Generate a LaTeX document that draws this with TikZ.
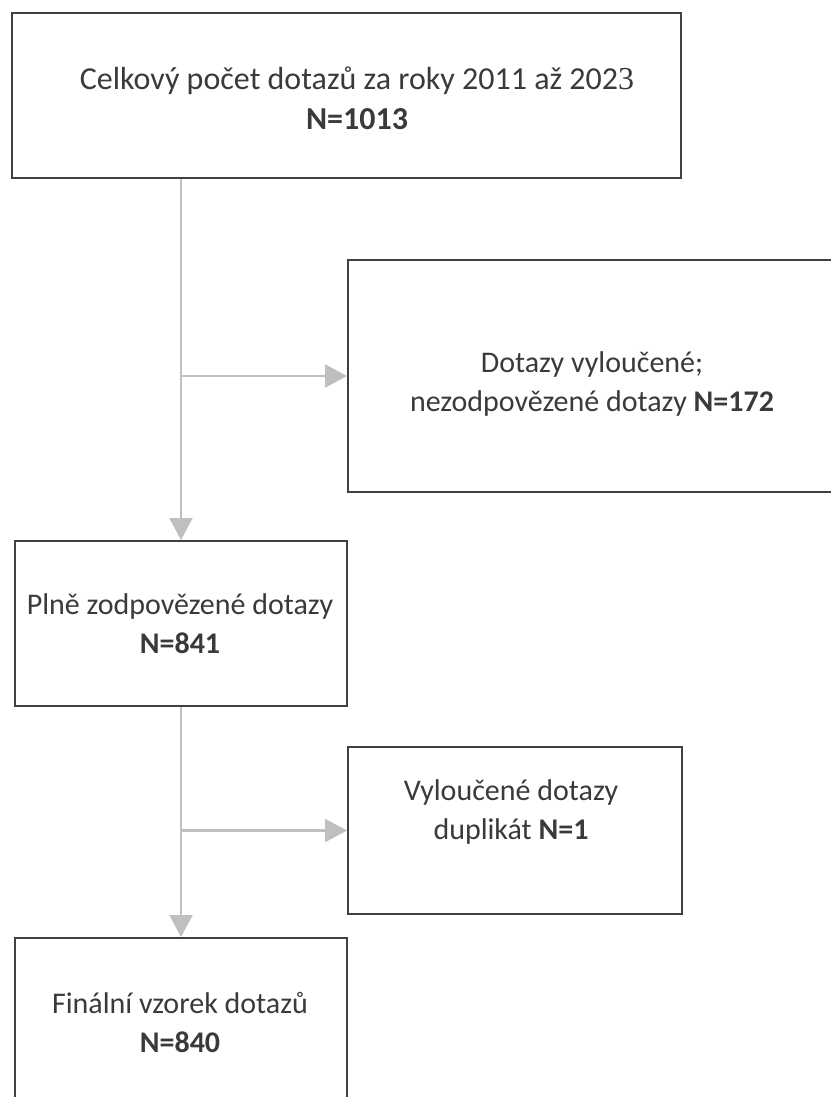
\documentclass[tikz,border=0pt]{standalone}
\usepackage{fontspec}
\setmainfont{Carlito}
\newfontfamily\serifthree{Liberation Serif}
\usetikzlibrary{arrows.meta}
\definecolor{boxline}{HTML}{404040}
\definecolor{arrowgray}{HTML}{BFBFBF}
\definecolor{txt}{HTML}{3A3A3A}
\begin{document}
\begin{tikzpicture}[x=1pt,y=-1pt,
  box/.style={draw=boxline,line width=2pt,anchor=north west,inner sep=0pt},
  lbl/.style={text=txt,font=\fontsize{30}{39}\selectfont,align=center,inner sep=0pt},
  flow/.style={draw=arrowgray,line width=2.2pt,-{Triangle[length=22pt,width=23pt]}}]
\useasboundingbox (0,0) rectangle (830,1097);
% boxes
\node[box,minimum width=669pt,minimum height=165pt] (b1) at (11,12) {};
\node[box,minimum width=491pt,minimum height=232pt] (r1) at (347,259) {};
\node[box,minimum width=332pt,minimum height=165pt] (b2) at (14,540) {};
\node[box,minimum width=334pt,minimum height=167pt] (r2) at (347,746) {};
\node[box,minimum width=332pt,minimum height=250pt] (b3) at (14,937) {};
% texts
\node[lbl,font=\fontsize{32}{40}\selectfont] (t1) at (357,98) {Celkový počet dotazů za roky 2011 až 202{\serifthree 3}\\\textbf{N=1013}};
\node[lbl] (t2) at (592,384) {Dotazy vyloučené;\\nezodpovězené dotazy \textbf{N=172}};
\node[lbl] (t3) at (180,624) {Plně zodpovězené dotazy\\\textbf{N=841}};
\node[lbl] (t4) at (511,812) {Vyloučené dotazy\\duplikát \textbf{N=1}};
\node[lbl] (t5) at (180,1022) {Finální vzorek dotazů\\\textbf{N=840}};
% connectors
\draw[flow] (b1.south -| b2.north) -- (b2.north);
\draw[flow] (r1.west -| b2.north) -- (r1.west);
\draw[flow] (b2.south) -- (b3.north);
\draw[flow] (r2.west -| b2.north) -- (r2.west);
\end{tikzpicture}
\end{document}
